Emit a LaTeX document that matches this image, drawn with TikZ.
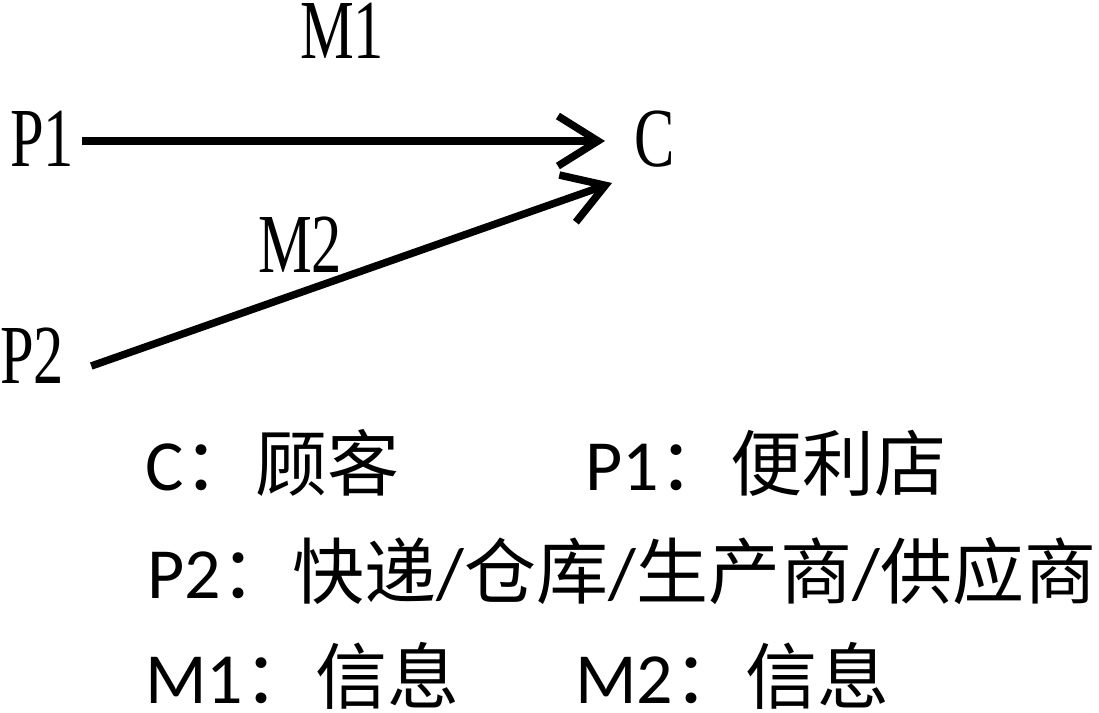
\documentclass[tikz,border=0pt]{standalone}
\usepackage{fontspec}
\setmainfont{Carlito}
\newfontfamily\cjk{Noto Sans CJK SC}
\newfontfamily\lblfont[FakeStretch=0.72]{Liberation Serif}
\usetikzlibrary{
    arrows.meta,
    positioning
}

\begin{document}
\begin{tikzpicture}[x=1pt,y=-1pt,
    lbl/.style={font=\lblfont\fontsize{84}{84}\selectfont, inner sep=0pt, anchor=base west},
    legend/.style={font=\fontsize{72}{72}\selectfont, inner sep=0pt, anchor=base west},
    flow/.style={line width=7.5pt, -{Straight Barb[length=40pt,width=50pt]}}
]
\useasboundingbox (0,0) rectangle (1099,712);

% Parties
\node[lbl] (p1) at (10,166) {P1};
\node[lbl] (c)  at (634,166) {C};
\node[lbl] (p2) at (0,383) {P2};

% Messages
\node[lbl] (m1) at (300,58) {M1};
\node[lbl] (m2) at (258,272) {M2};

\draw[flow, shorten >=29pt] ([shift={(8,-25)}]p1.base east) -- ([shift={(0,-25)}]c.base west);
\draw[flow] ([shift={(27,-17)}]p2.base east) -- ([shift={(-22,17)}]c.base west);

% Legend
\node[legend] (kc)  at (145,490) {C{\cjk ：顾客}};
\node[legend] (kp1) at (585,490) {P1{\cjk ：便利店}};
\node[legend] (kp2) at (147,598) {P2{\cjk ：快递}/{\cjk 仓库}/{\cjk 生产商}/{\cjk 供应商}};
\node[legend] (km1) at (145,703) {M1{\cjk ：信息}};
\node[legend] (km2) at (575,703) {M2{\cjk ：信息}};
\end{tikzpicture}
\end{document}
